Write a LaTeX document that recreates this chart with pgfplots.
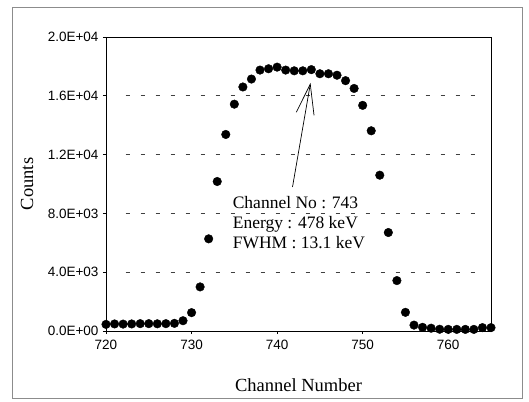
\documentclass[border=0pt]{standalone}
\usepackage{fontspec}
\setmainfont{Liberation Serif}
\newfontfamily\arialf{Liberation Sans}
\newcommand\tickf{\fontsize{13.5}{15}\arialf}
\usepackage{pgfplots}
\pgfplotsset{compat=1.18}
\usetikzlibrary{arrows.meta}
\begin{document}
\begin{tikzpicture}
\begin{axis}[
  scale only axis,
  width=385pt, height=294pt,
  xmin=720, xmax=765, ymin=0, ymax=20000,
  axis line style={line width=0.9pt},
  xtick={720,730,740,750,760},
  xticklabels={{\tickf 720},{\tickf 730},{\tickf 740},{\tickf 750},{\tickf 760}},
  ytick={0,4000,8000,12000,16000,20000},
  yticklabels={{\tickf 0.0E+00},{\tickf 4.0E+03},{\tickf 8.0E+03},{\tickf 1.2E+04},{\tickf 1.6E+04},{\tickf 2.0E+04}},
  scaled y ticks=false,
  tick style={black, line width=0.6pt},
  major tick length=3pt,
  tick align=outside,
  xtick pos=bottom, ytick pos=left,
  x tick label style={yshift=-3pt},
  y tick label style={xshift=-1pt},
  xlabel={Channel Number},
  ylabel={Counts},
  xlabel style={font=\fontsize{18.5}{20}\selectfont, at={(axis description cs:0.5,-0.184)}, anchor=center},
  ylabel style={font=\fontsize{18.5}{20}\selectfont, at={(axis description cs:-0.205,0.5)}, anchor=center},
  clip=false,
]
% dashed grid lines
\foreach \yy in {4000,8000,12000,16000} {
  \edef\tmp{\noexpand\draw[black!75, line width=0.6pt, dash pattern=on 4pt off 11pt] (axis cs:722.3,\yy) -- (axis cs:764,\yy);}
  \tmp
}
\addplot[only marks, mark=*, mark size=4.3pt, mark options={fill=black, draw=black}] coordinates {
(720,450) (721,480) (722,470) (723,480) (724,500) (725,500) (726,490) (727,500) (728,520) (729,700)
(730,1250) (731,3000) (732,6270) (733,10170) (734,13370) (735,15430) (736,16600) (737,17140)
(738,17750) (739,17840) (740,17950) (741,17750) (742,17700) (743,17700) (744,17780) (745,17500)
(746,17500) (747,17400) (748,17030) (749,16500) (750,15350) (751,13620) (752,10600) (753,6700)
(754,3430) (755,1270) (756,400) (757,250) (758,190) (759,120) (760,110) (761,110) (762,110)
(763,110) (764,230) (765,230)
};
\node[anchor=base west, align=left, font=\fontsize{17.5}{20}\selectfont, inner sep=0pt] at (axis cs:734.8,5646)
  {Channel No : 743\\Energy : 478 keV\\FWHM : 13.1 keV};
\draw[line width=0.7pt, -{Straight Barb[length=30pt,width=18pt,line width=0.7pt]}] (axis cs:741.8,9796) -- (axis cs:743.9,16871);
\end{axis}
\draw[black!45, line width=0.5pt] (current axis.south west) ++(-94pt,-67pt) rectangle ++(510pt,391pt);
\path[use as bounding box] (current axis.south west) ++(-106pt,-70pt) rectangle ++(529pt,401pt);
\end{tikzpicture}
\end{document}
